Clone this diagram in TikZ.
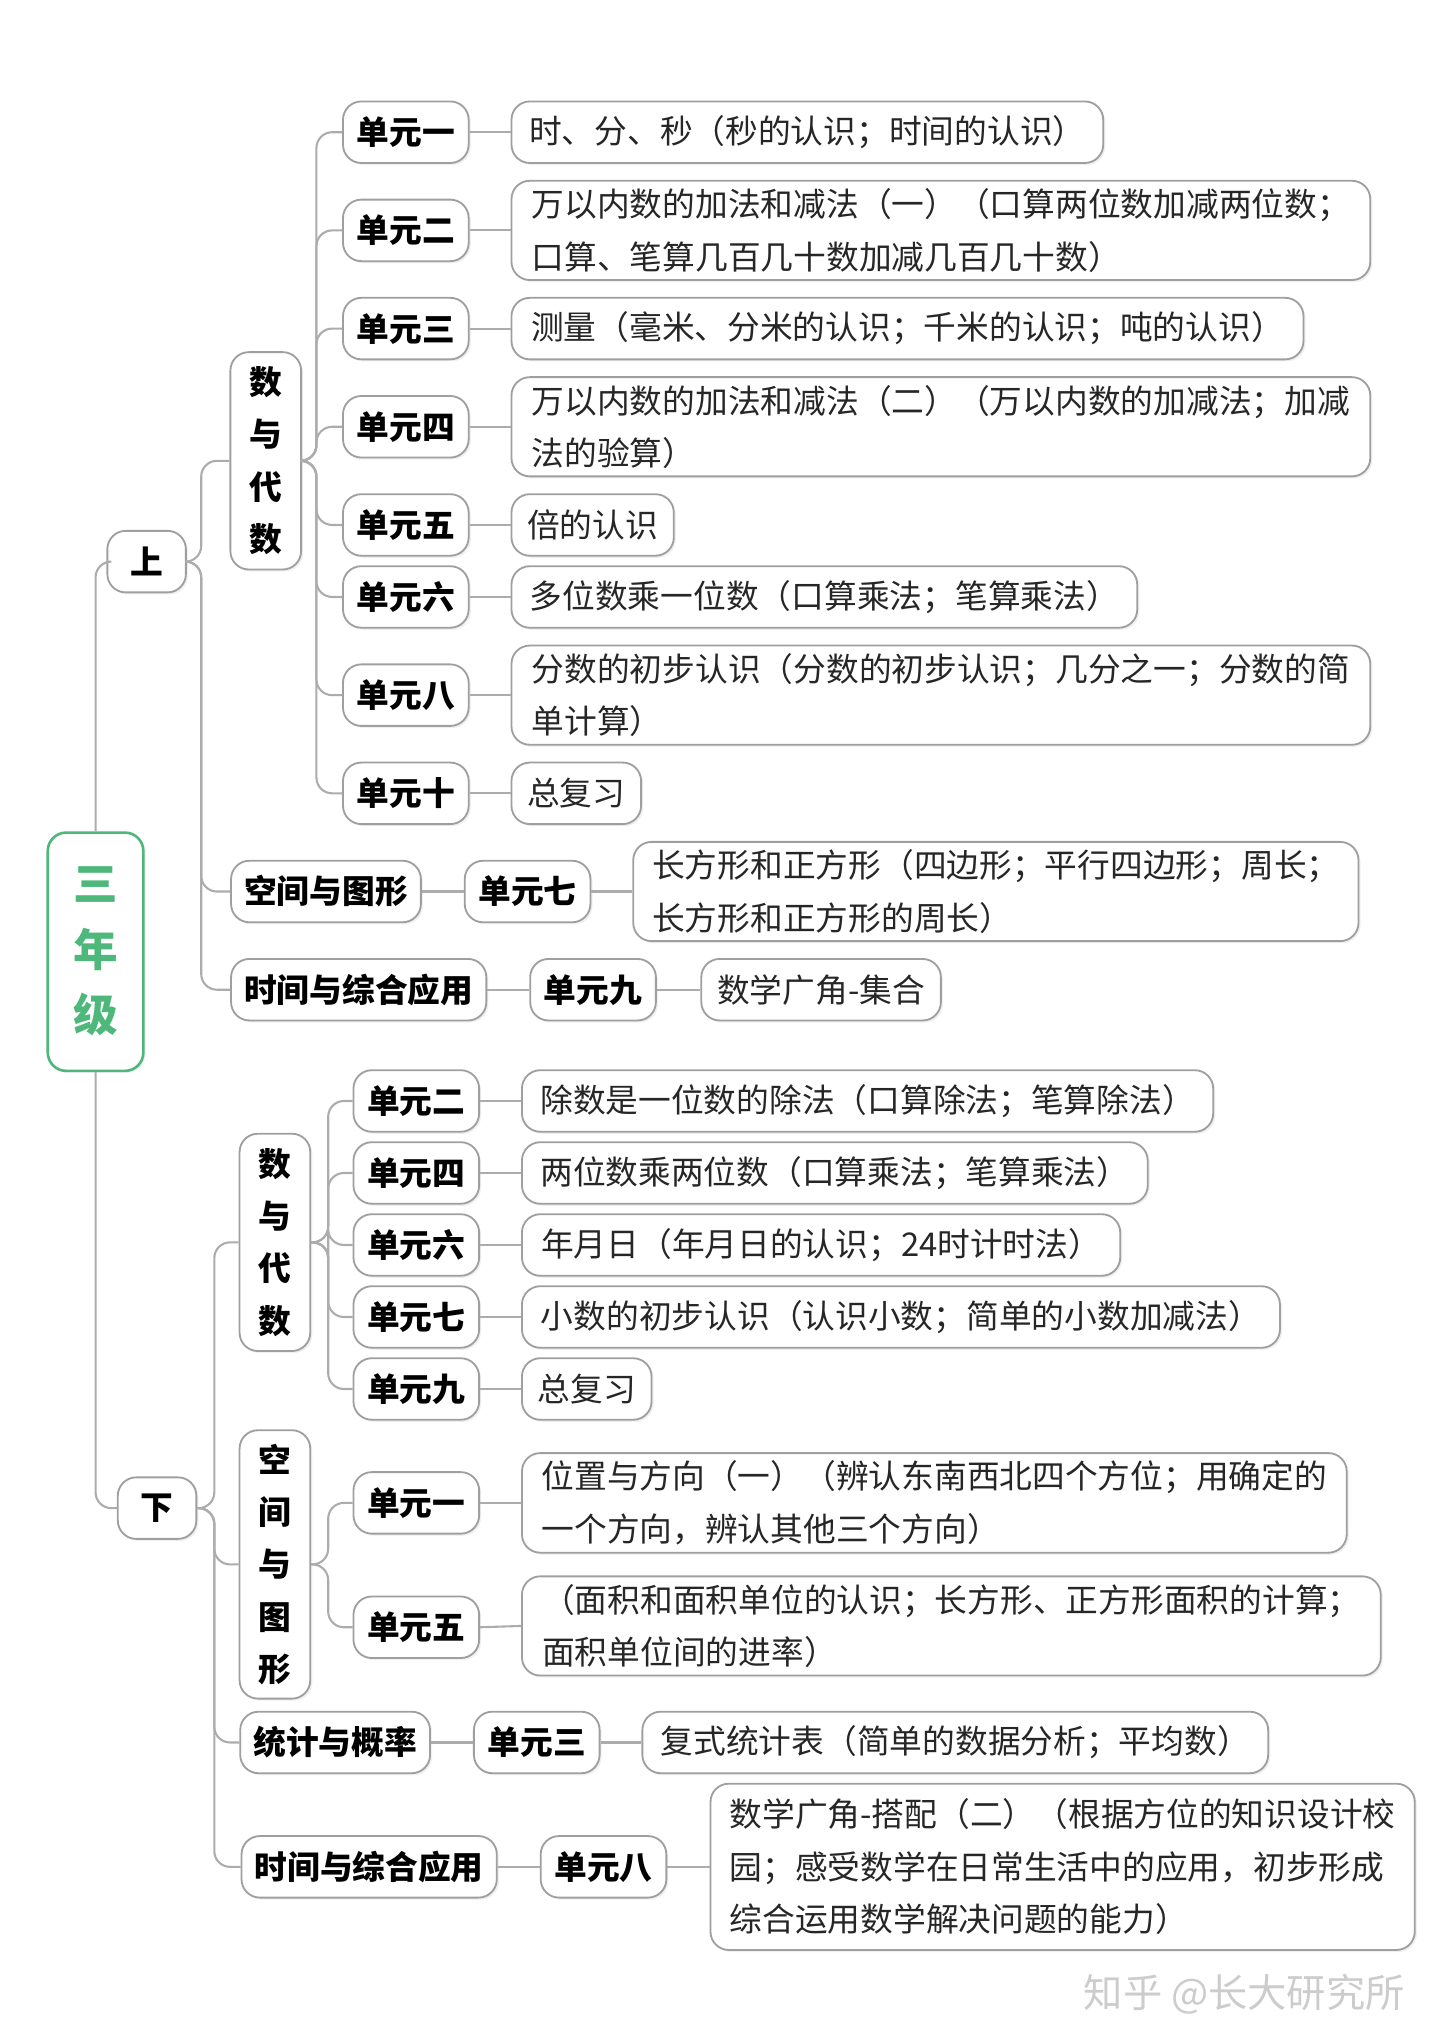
\documentclass[tikz,border=0pt]{standalone}
\usepackage{fontspec}
\setmainfont{Noto Sans CJK SC}
\usetikzlibrary{shadows}
\definecolor{grn}{HTML}{4DB87A}
\tikzset{
 box/.style={draw=gray!75, rounded corners=7pt, line width=0.7pt, fill=white, inner sep=3pt, drop shadow={opacity=0.12,shadow xshift=0.8pt,shadow yshift=-0.8pt}},
 unit/.style={box, font=\fontsize{12.5}{20}\selectfont\bfseries, minimum width=48pt, minimum height=23.5pt},
 cat/.style={box, font=\fontsize{12.5}{20}\selectfont\bfseries, minimum height=23.5pt, inner xsep=5pt},
 vcat/.style={box, font=\fontsize{12.5}{20}\selectfont\bfseries, align=center, minimum width=27pt},
 cont/.style={box, anchor=west, align=left, minimum height=23.5pt, inner xsep=6pt, font=\fontsize{12.5}{20}\selectfont, text=black!85},
 ln/.style={draw=gray!65, line width=0.8pt, rounded corners=6pt},
}
\newcommand{\br}[4]{\draw[ln] (#1.east) -- ++(#3,0) |- (#2.west);}
\begin{document}
\begin{tikzpicture}[x=0.5pt,y=-0.5pt]
\useasboundingbox (0,0) rectangle (1100,1556);
\node[box, draw=grn, line width=1pt, text=grn, font=\fontsize{17}{25}\selectfont\bfseries, align=center, minimum width=36.5pt, minimum height=91pt] (root) at (73,727) {三\\年\\级};
\node[cat, minimum width=30pt] (s) at (112,429) {上};
\node[cat, minimum width=30pt] (x) at (120,1152) {下};
\draw[ln] (root.north) |- (s.west);
\draw[ln] (root.south) |- (x.west);
% 上
\node[vcat, minimum height=83pt] (s1) at (203,352) {数\\与\\代\\数};
\node[cat] (s2) at (249,681) {空间与图形};
\node[cat] (s3) at (274,756) {时间与综合应用};
\foreach \c in {s1,s2,s3}{\draw[ln] (s.east) -- ++(11,0) |- (\c.west);}
\foreach \n/\t/\y in {a/一/101,b/二/176,c/三/251,d/四/326,e/五/401,f/六/456,g/八/531,h/十/606}{
 \node[unit] (u\n) at (310,\y) {单元\t};
 \draw[ln] (s1.east) -- ++(11,0) |- (u\n.west);
}
\node[cont, minimum width=226pt] (ca) at (390,101) {时、分、秒（秒的认识；时间的认识）};
\node[cont, minimum width=328pt] (cb) at (390,176) {万以内数的加法和减法（一）（口算两位数加减两位数；\\口算、笔算几百几十数加减几百几十数）};
\node[cont, minimum width=302.5pt] (cc) at (390,251) {测量（毫米、分米的认识；千米的认识；吨的认识）};
\node[cont, minimum width=328pt] (cd) at (390,326) {万以内数的加法和减法（二）（万以内数的加减法；加减\\法的验算）};
\node[cont, minimum width=61.5pt] (ce) at (390,401) {倍的认识};
\node[cont, minimum width=239pt] (cf) at (390,456) {多位数乘一位数（口算乘法；笔算乘法）};
\node[cont, minimum width=328pt] (cg) at (390,531) {分数的初步认识（分数的初步认识；几分之一；分数的简\\单计算）};
\node[cont, minimum width=48pt] (ch) at (390,606) {总复习};
\foreach \n in {a,b,c,d,e,f,g,h}{\draw[ln] (u\n.east) -- (c\n.west);}
\node[unit] (s2u) at (403,681) {单元七};
\node[cont, minimum width=277pt] (s2c) at (483,681) {长方形和正方形（四边形；平行四边形；周长；\\长方形和正方形的周长）};
\draw[ln] (s2.east) -- (s2u.west); \draw[ln] (s2u.east) -- (s2c.west);
\node[unit] (s3u) at (453,756) {单元九};
\node[cont, minimum width=91.5pt] (s3c) at (535,756) {数学广角-集合};
\draw[ln] (s3.east) -- (s3u.west); \draw[ln] (s3u.east) -- (s3c.west);
% 下
\node[vcat, minimum height=83pt] (x1) at (210,949) {数\\与\\代\\数};
\node[vcat, minimum height=102.5pt] (x2) at (210,1195) {空\\间\\与\\图\\形};
\node[cat] (x3) at (256,1331) {统计与概率};
\node[cat] (x4) at (282,1426) {时间与综合应用};
\foreach \c in {x1,x2,x3,x4}{\draw[ln] (x.east) -- ++(13,0) |- (\c.west);}
\foreach \n/\t/\y/\w/\txt in {
 a/二/841/264/除数是一位数的除法（口算除法；笔算除法）,
 b/四/896/239/两位数乘两位数（口算乘法；笔算乘法）,
 c/六/951/228.5/年月日（年月日的认识；24时计时法）,
 d/七/1006/289.5/小数的初步认识（认识小数；简单的小数加减法）,
 e/九/1061/48.5/总复习}{
 \node[unit] (v\n) at (318,\y) {单元\t};
 \node[cont, minimum width=\w pt] (w\n) at (398,\y) {\txt};
 \draw[ln] (x1.east) -- ++(13,0) |- (v\n.west);
 \draw[ln] (v\n.east) -- (w\n.west);
}
\node[unit] (vf) at (318,1148) {单元一};
\node[cont, minimum width=315pt] (wf) at (398,1148) {位置与方向（一）（辨认东南西北四个方位；用确定的\\一个方向，辨认其他三个方向）};
\node[unit] (vg) at (318,1243) {单元五};
\node[cont, minimum width=328pt] (wg) at (398,1242) {（面积和面积单位的认识；长方形、正方形面积的计算；\\面积单位间的进率）};
\foreach \n in {f,g}{\draw[ln] (x2.east) -- ++(13,0) |- (v\n.west); \draw[ln] (v\n.east) -- (w\n.west);}
\node[unit] (x3u) at (410,1331) {单元三};
\node[cont, minimum width=239pt] (x3c) at (490,1331) {复式统计表（简单的数据分析；平均数）};
\draw[ln] (x3.east) -- (x3u.west); \draw[ln] (x3u.east) -- (x3c.west);
\node[unit] (x4u) at (461,1426) {单元八};
\node[cont, minimum width=269pt, minimum height=63.5pt] (x4c) at (542,1426) {数学广角-搭配（二）（根据方位的知识设计校\\园；感受数学在日常生活中的应用，初步形成\\综合运用数学解决问题的能力）};
\draw[ln] (x4.east) -- (x4u.west); \draw[ln] (x4u.east) -- (x4c.west);
\node[text=gray!40, font=\fontsize{15}{18}\selectfont, anchor=east] (wm) at (1080,1523) {知乎 @长大研究所};
\end{tikzpicture}
\end{document}
